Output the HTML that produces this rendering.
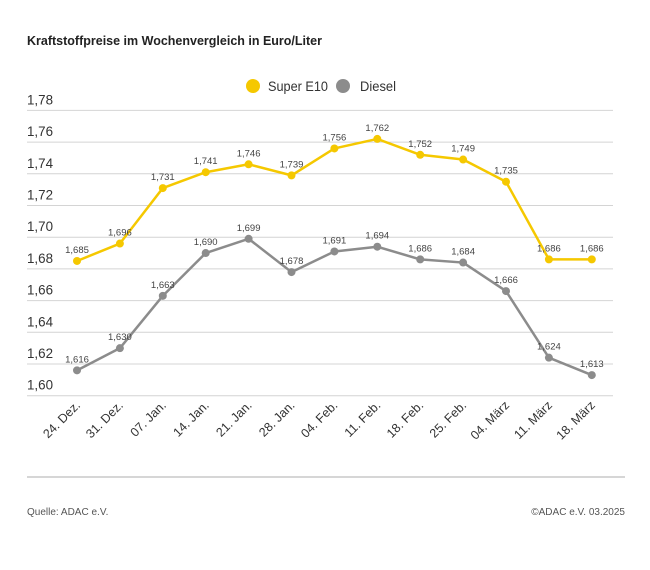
<!DOCTYPE html>
<html><head><meta charset="utf-8"><style>
html,body{margin:0;padding:0;background:#fff;width:650px;height:570px;overflow:hidden}
svg{display:block;font-family:"Liberation Sans",sans-serif}
</style></head><body>
<svg id="s" width="650" height="570" viewBox="0 0 650 570">
<text x="27" y="45" font-size="13" font-weight="bold" fill="#222" textLength="295" lengthAdjust="spacingAndGlyphs">Kraftstoffpreise im Wochenvergleich in Euro/Liter</text>
<circle cx="253" cy="86" r="7" fill="#f5c800"/>
<text x="268" y="91" font-size="13.5" fill="#333" textLength="60" lengthAdjust="spacingAndGlyphs">Super E10</text>
<circle cx="343" cy="86" r="7" fill="#8c8c8c"/>
<text x="360" y="91" font-size="13.5" fill="#333" textLength="36" lengthAdjust="spacingAndGlyphs">Diesel</text>
<line x1="27" y1="477" x2="625" y2="477" stroke="#c8c8c8" stroke-width="1.5"/>
<text x="27" y="515" font-size="10" fill="#555">Quelle: ADAC e.V.</text>
<text x="625" y="515" font-size="10" fill="#555" text-anchor="end">©ADAC e.V. 03.2025</text>
<g id="g"></g>
</svg>
<script>
var g=document.getElementById('g'),h='';
function Y(v){return 395.7-(v-1.60)*1585;}
function X(i){return 77+42.9*i;}
for(var k=0;k<10;k++){var v=1.60+k*0.02,y=Y(v);
h+='<line x1="27" y1="'+y+'" x2="613" y2="'+y+'" stroke="#d4d4d4" stroke-width="1"/>';
h+='<text x="27" y="'+(y-6)+'" font-size="14" fill="#333" textLength="26" lengthAdjust="spacingAndGlyphs">'+v.toFixed(2).replace('.',',')+'</text>';}
var e=[1.685,1.696,1.731,1.741,1.746,1.739,1.756,1.762,1.752,1.749,1.735,1.686,1.686];
var d=[1.616,1.630,1.663,1.690,1.699,1.678,1.691,1.694,1.686,1.684,1.666,1.624,1.613];
var lb=['24. Dez.','31. Dez.','07. Jan.','14. Jan.','21. Jan.','28. Jan.','04. Feb.','11. Feb.','18. Feb.','25. Feb.','04. März','11. März','18. März'];
function ser(a,c){var p=a.map(function(v,i){return X(i)+','+Y(v)}).join(' ');
h+='<polyline points="'+p+'" fill="none" stroke="'+c+'" stroke-width="2.5" stroke-linejoin="round"/>';
a.forEach(function(v,i){h+='<circle cx="'+X(i)+'" cy="'+Y(v)+'" r="4" fill="'+c+'"/>';
h+='<text x="'+X(i)+'" y="'+(Y(v)-8)+'" font-size="9.5" fill="#444" text-anchor="middle">'+v.toFixed(3).replace('.',',')+'</text>';});}
ser(e,'#f5c800');ser(d,'#8c8c8c');
lb.forEach(function(t,i){var x=X(i)+4,y=406;
h+='<text x="'+x+'" y="'+y+'" font-size="12.5" fill="#333" text-anchor="end" transform="rotate(-45 '+x+' '+y+')">'+t+'</text>';});
g.innerHTML=h;
</script>
</body></html>
